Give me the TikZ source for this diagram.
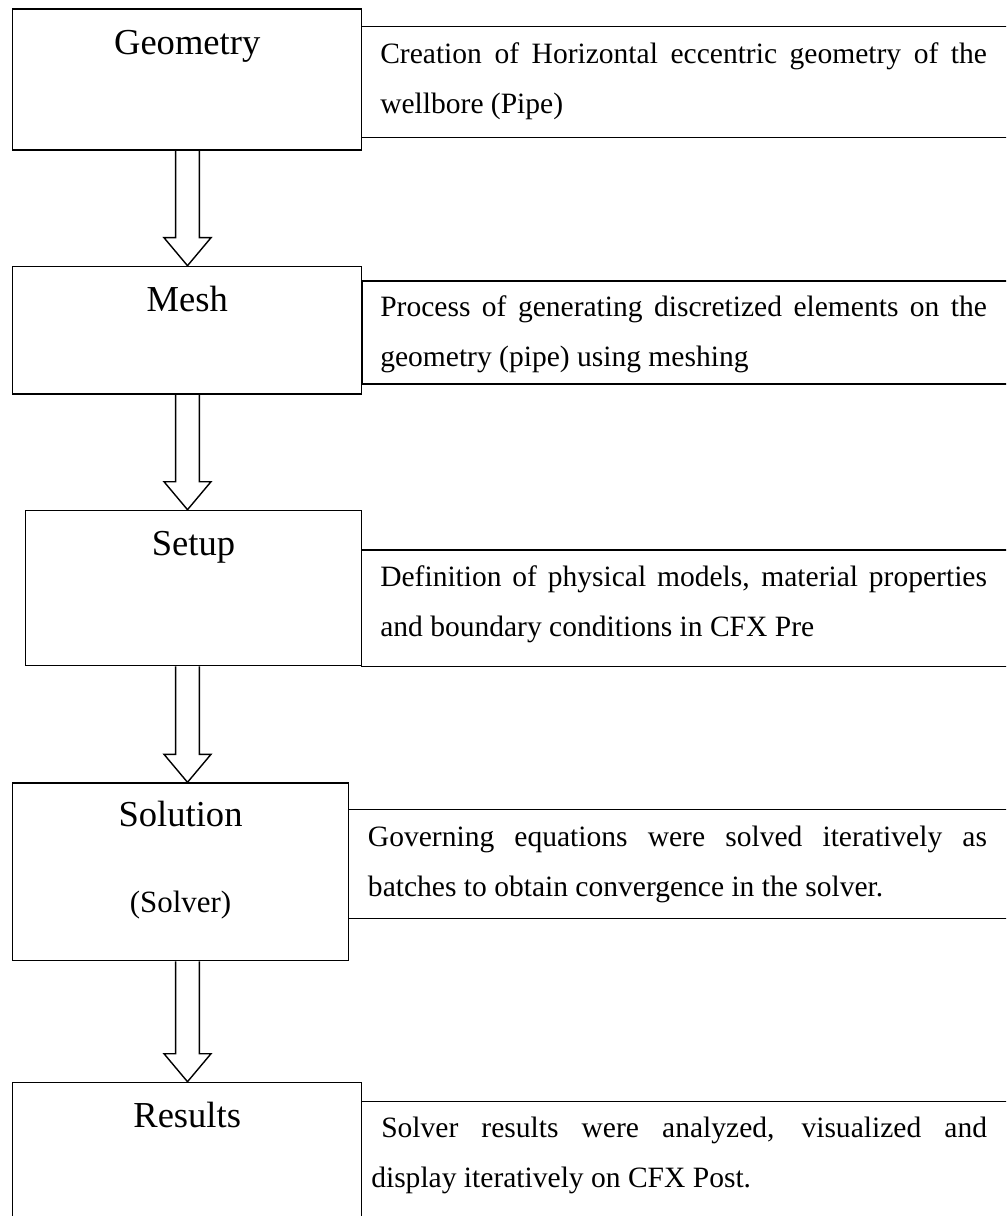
\documentclass[tikz,border=0pt]{standalone}
\usepackage{fontspec}
\setmainfont{Liberation Serif}
\usetikzlibrary{calc,positioning}
\newlength{\pxu}
\setlength{\pxu}{0.025cm}
\newcommand{\fullline}[2]{\makebox[#1\pxu][s]{#2}}
\tikzset{
  stage/.style={draw=black, line width=1pt, anchor=north west, inner sep=0pt},
  note/.style={draw=black, line width=1.2pt, anchor=north west, inner sep=0pt,
    minimum width=700\pxu},
  title/.style={anchor=base, inner sep=0pt, font=\fontsize{26}{30}\selectfont},
  notetext/.style={anchor=base west, align=left, inner sep=0pt,
    font=\fontsize{21}{35.6}\selectfont},
  hollow/.style={draw=black, line width=1pt, line join=miter}
}
% hollow block arrow from the bottom of one box to the top of the next
\newcommand{\blockarrow}[2]{%
  \draw[hollow] ($(#1.south -| ax)+(-11.8,0)$) -- ($(#2.north -| ax)+(-11.8,-28)$)
    -- ++(-11.7,0) -- (#2.north -| ax) -- ++(23.5,-28) -- ++(-11.7,0)
    -- ($(#1.south -| ax)+(11.8,0)$);}
\begin{document}
\begin{tikzpicture}[x=0.025cm, y=-0.025cm]
  \useasboundingbox (0,0) rectangle (1006,1216);
  \clip (0,0) rectangle (1006,1216);
  \coordinate (ax) at (187.5,0);

  % stages
  \node[stage, minimum width=349\pxu, minimum height=141\pxu] (geo) at (12,8.3) {};
  \node[stage, minimum width=349\pxu, minimum height=127.6\pxu] (mesh) at (12,265.7) {};
  \node[stage, minimum width=335.7\pxu, minimum height=155.3\pxu] (setup) at (25,509.7) {};
  \node[stage, minimum width=335.7\pxu, minimum height=177.7\pxu] (sol) at (12,782.3) {};
  \node[stage, minimum width=349\pxu, minimum height=200\pxu] (res) at (12,1081.7) {};

  \node[title] (geotitle) at ($(geo.north)+(0,46.7)$) {Geometry};
  \node[title] (meshtitle) at ($(mesh.north)+(0,46)$) {Mesh};
  \node[title] (setuptitle) at ($(setup.north)+(0,45.3)$) {Setup};
  \node[title] (soltitle) at ($(sol.north)+(0,44.4)$) {Solution};
  \node[title, font=\fontsize{22}{26}\selectfont] (solsub) at ($(sol.north)+(0,129.7)$) {(Solver)};
  \node[title] (restitle) at ($(res.north)+(0,46)$) {Results};

  % notes
  \node[note, minimum height=111\pxu] (geonote) at (360.7,25.7) {};
  \node[note, minimum height=103.3\pxu] (meshnote) at (361,280) {};
  \node[note, minimum height=116.4\pxu] (setupnote) at (360.7,549.3) {};
  \node[note, minimum height=109\pxu] (solnote) at (347.7,808.7) {};
  \node[note, minimum height=200\pxu] (resnote) at (360.7,1100.7) {};

  % base of a two-line note is its last line
  \node[notetext] (geotext) at (380,113.3)
    {\fullline{606.7}{Creation of Horizontal eccentric geometry of the}\\wellbore (Pipe)};
  \node[notetext] (meshtext) at (380,366.7)
    {\fullline{606.7}{Process of generating discretized elements on the}\\geometry (pipe) using meshing};
  \node[notetext] (setuptext) at (380,636.7)
    {\fullline{606.7}{Definition of physical models, material properties}\\and boundary conditions in CFX Pre};
  \node[notetext] (soltext) at (367.7,896.7)
    {\fullline{619}{Governing equations were solved iteratively as}\\batches to obtain convergence in the solver.};
  \node[notetext] (restext) at (371,1187.5)
    {\hspace*{10\pxu}\fullline{605.7}{Solver results were analyzed, visualized and}\\display iteratively on CFX Post.};

  % flow
  \blockarrow{geo}{mesh}
  \blockarrow{mesh}{setup}
  \blockarrow{setup}{sol}
  \blockarrow{sol}{res}
\end{tikzpicture}
\end{document}
